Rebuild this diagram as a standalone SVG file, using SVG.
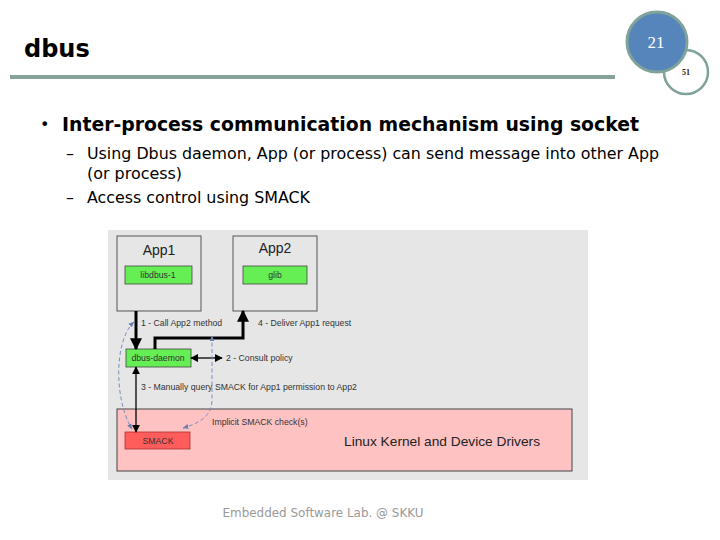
<svg xmlns="http://www.w3.org/2000/svg" width="720" height="540" viewBox="0 0 720 540">
<defs>
<style>
.t{font-family:"DejaVu Sans",sans-serif;fill:#000}
.d{font-family:"Liberation Sans",Arial,sans-serif;fill:#333;font-size:8.7px}
.box{fill:#e6e6e6;stroke:#555;stroke-width:1}
.grn{fill:#66ee55;stroke:#444;stroke-width:0.8}
.thick{stroke:#000;stroke-width:3;fill:none}
.thin{stroke:#000;stroke-width:1.3;fill:none}
.dash{stroke:#7a90c0;stroke-width:1;stroke-dasharray:4 2.5;fill:none}
</style>
<marker id="ab" viewBox="0 0 10 10" refX="9" refY="5" markerWidth="4" markerHeight="4" orient="auto-start-reverse"><path d="M0,0 L10,5 L0,10 z" fill="#000"/></marker>
<marker id="as" viewBox="0 0 10 10" refX="9" refY="5" markerWidth="6" markerHeight="6" orient="auto-start-reverse"><path d="M0,0 L10,5 L0,10 z" fill="#000"/></marker>
<marker id="ad" viewBox="0 0 10 10" refX="9" refY="5" markerWidth="6" markerHeight="6" orient="auto-start-reverse"><path d="M0,1 L10,5 L0,9 z" fill="#6a80b0"/></marker>
</defs>
<rect width="720" height="540" fill="#fff"/>
<g id="header">
<text class="t" x="24" y="57" font-size="24" font-weight="bold">dbus</text>
<line x1="10" y1="77" x2="615" y2="77" stroke="#86a39a" stroke-width="4"/>
<circle cx="686" cy="72" r="22" fill="#fff" stroke="#7fa29b" stroke-width="2.5"/>
<circle cx="657" cy="42" r="30" fill="#5585bb" stroke="#7fa29b" stroke-width="3"/>
<text x="656" y="48" font-family="Liberation Serif,serif" font-size="17" fill="#fff" text-anchor="middle">21</text>
<text x="686" y="75" font-family="Liberation Serif,serif" font-size="8" font-weight="bold" fill="#222" text-anchor="middle">51</text>
</g>
<g id="bullets">
<text class="t" x="40" y="130" font-size="16">•</text>
<text class="t" x="62" y="131" font-size="19" font-weight="bold" textLength="577" lengthAdjust="spacingAndGlyphs">Inter-process communication mechanism using socket</text>
<text class="t" x="66" y="159" font-size="16">–</text>
<text class="t" x="87" y="159" font-size="16" textLength="572" lengthAdjust="spacingAndGlyphs">Using Dbus daemon, App (or process) can send message into other App</text>
<text class="t" x="87" y="179" font-size="16" textLength="95" lengthAdjust="spacingAndGlyphs">(or process)</text>
<text class="t" x="66" y="203" font-size="16">–</text>
<text class="t" x="87" y="203" font-size="16" textLength="223" lengthAdjust="spacingAndGlyphs">Access control using SMACK</text>
</g>
<rect x="108" y="230" width="480" height="250" fill="#e6e6e6"/>
<g id="app1">
<rect class="box" x="117" y="236" width="84" height="75"/>
<text x="159" y="255" font-family="Liberation Sans,sans-serif" font-size="14" fill="#222" text-anchor="middle">App1</text>
</g>
<g id="libdbus">
<rect class="grn" x="125" y="266" width="67" height="18"/>
<text class="d" x="158" y="278" text-anchor="middle">libdbus-1</text>
</g>
<g id="app2">
<rect class="box" x="233" y="236" width="84" height="75"/>
<text x="275" y="253" font-family="Liberation Sans,sans-serif" font-size="14" fill="#222" text-anchor="middle">App2</text>
</g>
<g id="glib">
<rect class="grn" x="243" y="266" width="64" height="18"/>
<text class="d" x="275" y="278" text-anchor="middle">glib</text>
</g>
<g id="kernel">
<rect x="117" y="409" width="455" height="62" fill="#ffc2c2" stroke="#444" stroke-width="1"/>
<text x="344" y="446" font-family="Liberation Sans,sans-serif" font-size="13.5" fill="#222" textLength="196" lengthAdjust="spacingAndGlyphs">Linux Kernel and Device Drivers</text>
</g>
<g id="smack">
<rect x="125" y="432" width="65" height="17" fill="#ff5c5c" stroke="#a33" stroke-width="0.8"/>
<text class="d" x="158" y="444" text-anchor="middle">SMACK</text>
</g>
<g id="dbus-daemon">
<rect class="grn" x="126" y="349" width="65" height="18"/>
<text class="d" x="158" y="361" text-anchor="middle">dbus-daemon</text>
</g>
<g id="connectors">
<line class="thick" x1="136" y1="311" x2="136" y2="349" marker-end="url(#ab)"/>
<polyline class="thick" points="155,349 155,338 243,338 243,311" marker-end="url(#ab)"/>
<line class="thin" x1="191" y1="358" x2="222" y2="358" marker-start="url(#as)" marker-end="url(#as)"/>
<line class="thin" x1="136" y1="367" x2="136" y2="432" marker-start="url(#as)" marker-end="url(#as)"/>
<path class="dash" d="M134,322 C114,340 114,400 132,429" marker-start="url(#ad)" marker-end="url(#ad)"/>
<path class="dash" d="M212,336 L212,400 C212,418 196,424 183,428" marker-start="url(#ad)" marker-end="url(#ad)"/>
<text class="d" x="141" y="326">1 - Call App2 method</text>
<text class="d" x="258" y="326">4 - Deliver App1 request</text>
<text class="d" x="226" y="361">2 - Consult policy</text>
<text class="d" x="141" y="390">3 - Manually query SMACK for  App1 permission to App2</text>
<text class="d" x="212" y="425" fill="#6a6aa8">Implicit SMACK check(s)</text>
</g>
<text x="323" y="517" font-family="DejaVu Sans,sans-serif" font-size="12" fill="#999" text-anchor="middle" textLength="201" lengthAdjust="spacingAndGlyphs">Embedded Software Lab. @ SKKU</text>
</svg>
